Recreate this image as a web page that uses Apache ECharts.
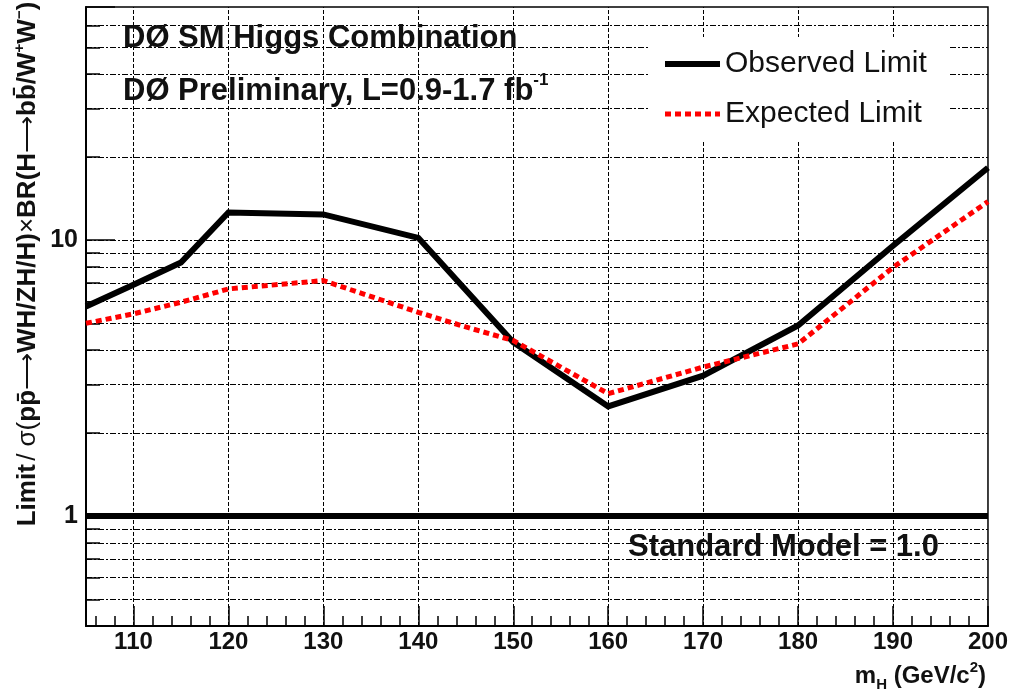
<!DOCTYPE html>
<html>
<head>
<meta charset="utf-8">
<script src="https://cdn.jsdelivr.net/npm/echarts@6/dist/echarts.min.js"></script>
<style>
  html, body { margin: 0; padding: 0; background: #fff; }
  #chart { width: 1011px; height: 691px; }
</style>
</head>
<body>
<div id="chart"></div>
<script>
// Higgs mass points (GeV/c^2)
const massObserved = [105, 110, 115, 120, 130, 140, 150, 160, 170, 180, 190, 200];
const observedLimit = [5.75, 6.9, 8.3, 12.6, 12.4, 10.2, 4.27, 2.5, 3.23, 4.91, 9.55, 18.3];

const massExpected = [105, 110, 115, 120, 130, 140, 145, 150, 160, 170, 180, 190, 200];
const expectedLimit = [5.0, 5.41, 5.96, 6.66, 7.14, 5.48, 4.85, 4.33, 2.78, 3.47, 4.21, 7.97, 13.8];

const smLine = 1.0;

// axis ticks / grid
const xLabels = [110, 120, 130, 140, 150, 160, 170, 180, 190, 200];
const xMinorTicks = [106, 108, 112, 114, 116, 118, 122, 124, 126, 128, 132, 134, 136, 138,
  142, 144, 146, 148, 152, 154, 156, 158, 162, 164, 166, 168, 172, 174, 176, 178,
  182, 184, 186, 188, 192, 194, 196, 198];
const xGrid = [110, 120, 130, 140, 150, 160, 170, 180, 190];
const yLabels = [1, 10];
const yMinorTicks = [0.5, 0.6, 0.7, 0.8, 0.9, 2, 3, 4, 5, 6, 7, 8, 9, 20, 30, 40, 50, 60];
const yGrid = [0.5, 0.6, 0.7, 0.8, 0.9, 2, 3, 4, 5, 6, 7, 8, 9, 10, 20, 30, 40, 50, 60];

const FONT = '"Liberation Sans", Arial, Helvetica, sans-serif';

const chart = echarts.init(document.getElementById('chart'), null, { renderer: 'canvas' });

const gridDash = { color: '#000', width: 1, type: [6, 2, 2, 2] };
const vDash = { color: '#000', width: 1, type: [4, 2] };
const obsStyle = { color: '#000', width: 6, type: 'solid', cap: 'butt', join: 'miter' };
const expStyle = { color: '#ff0000', width: 5, type: [6, 4], cap: 'butt' };

chart.setOption({
  animation: false,
  backgroundColor: '#fff',
  grid: {
    left: 86, right: 23, top: 7, bottom: 65,
    show: true, borderColor: '#000', borderWidth: 1.5, backgroundColor: 'transparent'
  },
  legend: {
    z: 20,
    data: [
      { name: 'Observed Limit', itemStyle: { opacity: 0 }, lineStyle: obsStyle },
      { name: 'Expected Limit', itemStyle: { opacity: 0 }, lineStyle: expStyle }
    ],
    orient: 'vertical',
    left: 650,
    top: 37,
    itemWidth: 55,
    itemHeight: 14,
    itemGap: 20,
    itemTextGap: 16,
    padding: [12, 23, 13, 12],
    backgroundColor: '#fff',
    textStyle: { fontFamily: FONT, fontSize: 30, color: '#111', lineHeight: 30 },
    selectedMode: false
  },
  xAxis: [
    {
      type: 'value',
      min: 105,
      max: 200,
      axisLine: { lineStyle: { color: '#000', width: 2 } },
      axisTick: { inside: true, length: 20, customValues: xLabels, lineStyle: { color: '#000', width: 1.5 } },
      axisLabel: { customValues: xLabels, fontFamily: FONT, fontSize: 24, fontWeight: 'bold', color: '#111', margin: 4 },
      splitLine: { show: false }
    },
    {
      type: 'value',
      min: 105,
      max: 200,
      position: 'bottom',
      axisLine: { show: false },
      axisTick: { inside: true, length: 10, customValues: xMinorTicks, lineStyle: { color: '#000', width: 1.5 } },
      axisLabel: { show: false },
      splitLine: { show: false }
    }
  ],
  yAxis: [
    {
      type: 'log',
      logBase: 10,
      min: 0.4,
      max: 70,
      axisLine: { show: true, lineStyle: { color: '#000', width: 2 } },
      axisTick: { show: true, inside: true, length: 29, lineStyle: { color: '#000', width: 1.5 } },
      axisLabel: {
        fontFamily: FONT, fontSize: 25, fontWeight: 'bold', color: '#111', margin: 8,
        formatter: v => (yLabels.some(l => Math.abs(l - v) < 1e-6 * l) ? String(Math.round(v)) : '')
      },
      splitLine: { show: false },
      minorTick: { show: false }
    },
    {
      type: 'log',
      logBase: 10,
      min: 0.4,
      max: 70,
      position: 'left',
      axisLine: { show: false },
      axisTick: { show: true, inside: true, length: 14, customValues: yMinorTicks, lineStyle: { color: '#000', width: 1.5 } },
      axisLabel: { show: false },
      splitLine: { show: false }
    }
  ],
  series: [
    {
      name: 'grid',
      type: 'line',
      data: [],
      z: 1,
      silent: true,
      markLine: {
        silent: true,
        symbol: 'none',
        label: { show: false },
        animation: false,
        data: yGrid.map(v => ({ yAxis: v, lineStyle: gridDash }))
          .concat(xGrid.map(v => ({ xAxis: v, lineStyle: vDash })))
      }
    },
    {
      name: 'sm',
      type: 'line',
      data: [],
      z: 3,
      silent: true,
      markLine: {
        silent: true,
        symbol: 'none',
        label: { show: false },
        animation: false,
        data: [{ yAxis: smLine, lineStyle: { color: '#000', width: 6, type: 'solid' } }]
      }
    },
    {
      name: 'Observed Limit',
      type: 'line',
      z: 4,
      symbol: 'none',
      data: massObserved.map((m, i) => [m, observedLimit[i]]),
      lineStyle: obsStyle,
      itemStyle: { color: '#000' }
    },
    {
      name: 'Expected Limit',
      type: 'line',
      z: 5,
      symbol: 'none',
      data: massExpected.map((m, i) => [m, expectedLimit[i]]),
      lineStyle: expStyle,
      itemStyle: { color: '#ff0000' }
    }
  ],
  graphic: [
    {
      type: 'text', x: 123, y: 38, z: 10,
      style: { text: 'DØ SM Higgs Combination', font: 'bold 31px ' + FONT, fill: '#111', verticalAlign: 'middle' }
    },
    {
      type: 'text', x: 123, y: 91, z: 10,
      style: {
        text: '{n|DØ Preliminary, L=0.9-1.7 fb}{s|-1}',
        verticalAlign: 'middle',
        rich: {
          n: { font: 'bold 31px ' + FONT, fill: '#111', lineHeight: 38, verticalAlign: 'middle' },
          s: { font: 'bold 17px ' + FONT, fill: '#111', lineHeight: 38, verticalAlign: 'top' }
        }
      }
    },
    {
      type: 'text', x: 628, y: 547, z: 10,
      style: { text: 'Standard Model = 1.0', font: 'bold 31px ' + FONT, fill: '#111', verticalAlign: 'middle' }
    },
    {
      type: 'text', x: 986, y: 676, z: 10,
      style: {
        text: '{n|m}{b|H}{n| (GeV/c}{s|2}{n|)}',
        align: 'right',
        verticalAlign: 'middle',
        rich: {
          n: { font: 'bold 24px ' + FONT, fill: '#111', lineHeight: 32, verticalAlign: 'middle' },
          b: { font: 'bold 15px ' + FONT, fill: '#111', lineHeight: 32, verticalAlign: 'bottom' },
          s: { font: 'bold 15px ' + FONT, fill: '#111', lineHeight: 32, verticalAlign: 'top' }
        }
      }
    },
    {
      type: 'text', x: 28, y: 264, z: 10, rotation: Math.PI / 2,
      style: {
        text: '{b|Limit} {r|/ σ(}{b|pp̄}{r|⟶}{b|WH/ZH/H)}{r|×}{b|BR(H}{r|⟶}{b|bb̄/W}{s|+}{b|W}{s|−}{b|)}',
        align: 'center',
        verticalAlign: 'middle',
        rich: {
          b: { font: 'bold 26px ' + FONT, fill: '#111', lineHeight: 32, verticalAlign: 'middle' },
          r: { font: '26px ' + FONT, fill: '#111', lineHeight: 32, verticalAlign: 'middle' },
          s: { font: 'bold 15px ' + FONT, fill: '#111', lineHeight: 32, verticalAlign: 'top' }
        }
      }
    }
  ]
});
</script>
</body>
</html>
